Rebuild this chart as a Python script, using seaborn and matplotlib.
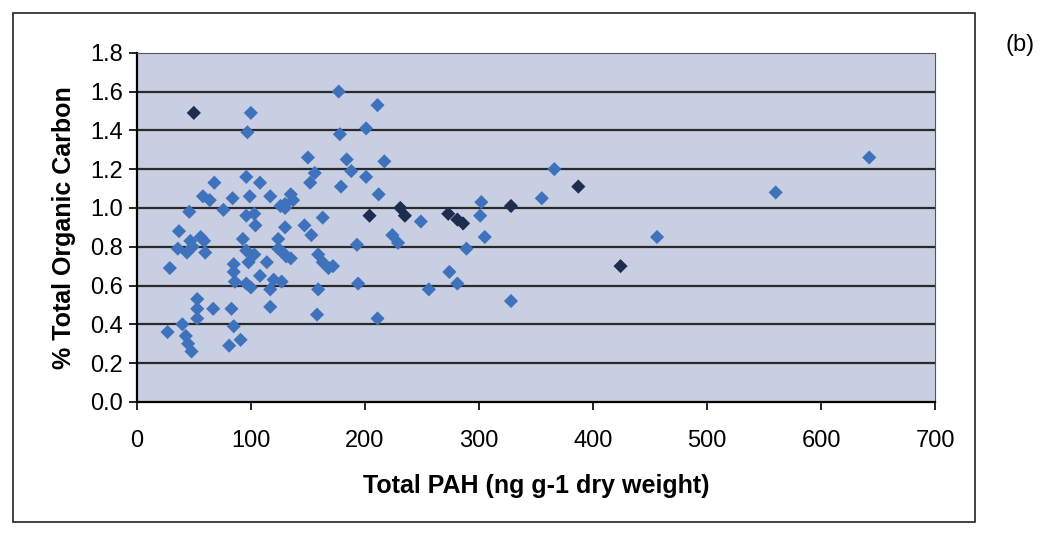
import matplotlib
matplotlib.use("Agg")
import matplotlib.pyplot as plt
import seaborn as sns
import pandas as pd
from matplotlib.patches import Rectangle

# Total PAH (ng g-1 dry weight) and % Total Organic Carbon
pah_blue = [100, 97, 177, 211, 201, 178, 150, 184, 217, 188, 156, 152, 201, 179, 212,
            96, 68, 108, 99, 84, 58, 64, 76, 117, 126, 130, 135, 137, 130, 46,
            96, 103, 104, 130, 163, 147, 153, 249, 302, 301, 305, 355, 366, 456,
            560, 642, 328, 224, 229, 193, 289, 274, 281, 256, 194, 211, 158, 159,
            159, 163, 168, 172, 37, 29, 36, 44, 47, 49, 56, 59, 60, 53, 53, 53,
            67, 27, 40, 43, 45, 48, 83, 85, 81, 91, 85, 85, 86, 93, 96, 98,
            96, 100, 103, 108, 114, 117, 117, 120, 127, 124, 128, 131, 135, 124]
toc_blue = [1.49, 1.39, 1.60, 1.53, 1.41, 1.38, 1.26, 1.25, 1.24, 1.19, 1.18, 1.13, 1.16, 1.11, 1.07,
            1.16, 1.13, 1.13, 1.06, 1.05, 1.06, 1.04, 0.99, 1.06, 1.01, 1.02, 1.07, 1.04, 1.00, 0.98,
            0.96, 0.97, 0.91, 0.90, 0.95, 0.91, 0.86, 0.93, 1.03, 0.96, 0.85, 1.05, 1.20, 0.85,
            1.08, 1.26, 0.52, 0.86, 0.82, 0.81, 0.79, 0.67, 0.61, 0.58, 0.61, 0.43, 0.45, 0.58,
            0.76, 0.72, 0.69, 0.70, 0.88, 0.69, 0.79, 0.77, 0.83, 0.80, 0.85, 0.83, 0.77, 0.53, 0.48, 0.43,
            0.48, 0.36, 0.40, 0.34, 0.30, 0.26, 0.48, 0.39, 0.29, 0.32, 0.71, 0.67, 0.62, 0.84, 0.78, 0.72,
            0.61, 0.59, 0.76, 0.65, 0.72, 0.58, 0.49, 0.63, 0.62, 0.79, 0.77, 0.75, 0.74, 0.84]
pah_dark = [50, 204, 231, 235, 273, 281, 286, 328, 387, 424]
toc_dark = [1.49, 0.96, 1.00, 0.96, 0.97, 0.94, 0.92, 1.01, 1.11, 0.70]

x_ticks = [0, 100, 200, 300, 400, 500, 600, 700]
y_ticks = [0.0, 0.2, 0.4, 0.6, 0.8, 1.0, 1.2, 1.4, 1.6, 1.8]

df = pd.DataFrame({
    "pah": pah_blue + pah_dark,
    "toc": toc_blue + toc_dark,
    "shade": ["blue"] * len(pah_blue) + ["dark"] * len(pah_dark),
})

sns.set_theme(style="white")
plt.rcParams["font.family"] = ["Liberation Sans", "DejaVu Sans"]
plt.rcParams["text.color"] = "black"
plt.rcParams["axes.labelcolor"] = "black"
plt.rcParams["xtick.color"] = "black"
plt.rcParams["ytick.color"] = "black"

fig = plt.figure(figsize=(10.44, 5.33), dpi=100)
ax = fig.add_axes([0.131, 0.246, 0.765, 0.655])
ax.set_facecolor("#c9cfe2")

for yv in y_ticks[1:-1]:
    ax.axhline(yv, color="#2a2a2a", lw=1.6, zorder=1)

sns.scatterplot(data=df, x="pah", y="toc", hue="shade",
                palette={"blue": "#3f72bc", "dark": "#1e2c4e"},
                marker="D", s=52, linewidth=0, legend=False, ax=ax, zorder=3)

ax.set_xlim(0, 700)
ax.set_ylim(0, 1.8)
ax.set_xticks(x_ticks)
ax.set_yticks(y_ticks)
ax.set_xticklabels([str(v) for v in x_ticks], fontsize=17)
ax.set_yticklabels([f"{v:.1f}" for v in y_ticks], fontsize=17)
ax.tick_params(axis="x", direction="out", length=6, width=1.2, color="black",
               labelcolor="black", bottom=True, pad=14)
ax.tick_params(axis="y", direction="out", length=6, width=1.2, color="black",
               labelcolor="black", left=True, pad=4)
for side in ["left", "bottom"]:
    ax.spines[side].set_color("black")
    ax.spines[side].set_linewidth(1.6)
for side in ["top", "right"]:
    ax.spines[side].set_color("#555555")
    ax.spines[side].set_linewidth(0.8)

ax.set_xlabel("Total PAH (ng g-1 dry weight)", fontsize=18, fontweight="bold",
              labelpad=16, color="black")
ax.set_ylabel("% Total Organic Carbon", fontsize=18, fontweight="bold",
              labelpad=10, color="black")

fig.text(0.977, 0.915, "(b)", fontsize=17, ha="center", va="center", color="black")
fig.patches.append(Rectangle((0.012, 0.02), 0.922, 0.955, transform=fig.transFigure,
                             fill=False, edgecolor="#222222", lw=1.2))

fig.savefig("out.png", dpi=100)
